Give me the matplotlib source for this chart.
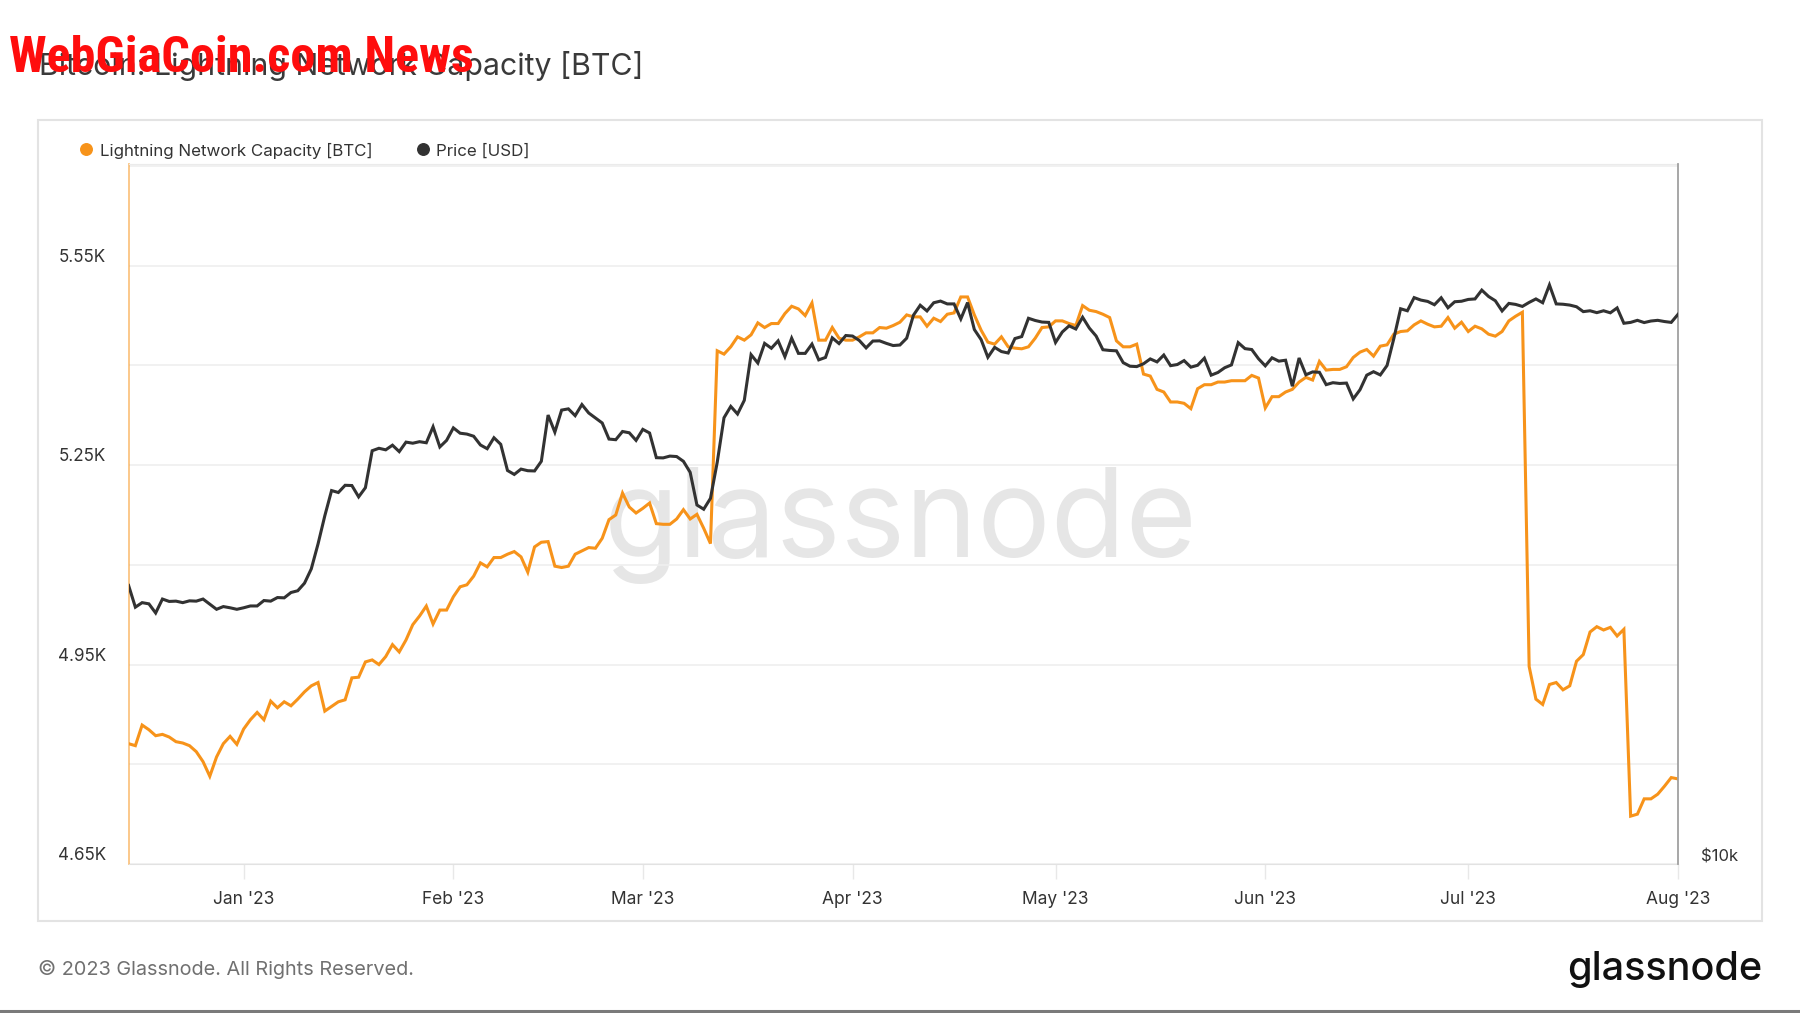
import matplotlib
matplotlib.use("Agg")
import matplotlib.pyplot as plt
import matplotlib.ticker as mticker
from matplotlib import font_manager
from matplotlib.lines import Line2D
from matplotlib.patches import Rectangle
import pandas as pd

plt.rcParams['font.family'] = ['Inter', 'DejaVu Sans']

# ---------------- data ----------------
start_date = "2022-12-15"
end_date = "2023-08-01"

capacity_btc = [
    4831, 4828, 4859, 4852, 4843, 4845, 4841, 4834, 4832, 4828, 4819, 4804, 4782, 4811, 4831, 4842, 4830,
    4853, 4867, 4878, 4867, 4895, 4885, 4894, 4888, 4898, 4909, 4918, 4923, 4880, 4887, 4894, 4897,
    4930, 4931, 4954, 4957, 4950, 4962, 4980, 4969, 4987, 5010, 5023, 5038, 5011, 5032, 5032,
    5052, 5067, 5070, 5083, 5103, 5097, 5111, 5111, 5116, 5120, 5112, 5089, 5127, 5134, 5135, 5098,
    5096, 5098, 5116, 5121, 5126, 5125, 5140, 5168, 5175, 5208, 5187, 5178,
    5185, 5193, 5162, 5161, 5161, 5169, 5183, 5169, 5176, 5155, 5132, 5422, 5417, 5428, 5443, 5438,
    5446, 5464, 5457, 5463, 5463, 5478, 5489, 5485, 5475, 5494, 5438, 5438, 5457, 5441, 5438,
    5438, 5443, 5449, 5449, 5457, 5456, 5460, 5465, 5476, 5473, 5473, 5459, 5471, 5466, 5477,
    5479, 5503, 5503, 5476, 5453, 5435, 5432, 5443, 5428, 5426, 5425, 5428, 5441, 5457, 5458,
    5467, 5467, 5463, 5460, 5490, 5483, 5481, 5477, 5472, 5437, 5428, 5428, 5432, 5387, 5384,
    5364, 5360, 5345, 5345, 5343, 5335, 5365, 5371, 5371, 5375, 5375, 5377, 5377, 5377, 5385, 5381,
    5336, 5353, 5353, 5360, 5364, 5375, 5382, 5378, 5406, 5393, 5394, 5394, 5398, 5412, 5420,
    5424, 5414, 5429, 5431, 5447, 5451, 5452, 5461, 5467, 5462, 5458, 5459, 5472, 5456, 5465,
    5451, 5459, 5455, 5447, 5444, 5451, 5467, 5474, 5480, 4947, 4898, 4890, 4920, 4923, 4912,
    4918, 4955, 4965, 4999, 5007, 5002, 5006, 4993, 5003, 4722, 4725, 4748, 4748, 4755, 4767,
    4780, 4778,
]

price_usd = [
    # Dec 15-31
    17360, 16630, 16780, 16740, 16440, 16900, 16820, 16830, 16780, 16840, 16830, 16900, 16730,
    16560, 16650, 16610, 16560,
    # Jan
    16610, 16670, 16670, 16850, 16830, 16950, 16940, 17120, 17180, 17440, 17940, 18850, 19930,
    20950, 20870, 21170, 21160, 20690, 21070, 22670, 22780, 22710, 22920, 22630, 23060, 23010,
    23080, 23030, 23770, 22840, 23140,
    # Feb
    23720, 23470, 23430, 23330, 22930, 22760, 23260, 22960, 21800, 21630, 21860, 21790, 21780,
    22200, 24330, 23520, 24570, 24630, 24300, 24840, 24430, 24190, 23950, 23200, 23170, 23550,
    23490, 23140,
    # Mar
    23650, 23480, 22360, 22350, 22430, 22410, 22200, 21720, 20360, 20190, 20630, 22160, 24200,
    24750, 24380, 25050, 27420, 26970, 28040, 27770, 28180, 27310, 28330, 27490, 27490, 28000,
    27140, 27270, 28350, 28030, 28480,
    # Apr
    28450, 28200, 27790, 28170, 28180, 28040, 27920, 27950, 28330, 29650, 30240, 29900, 30390,
    30490, 30320, 30320, 29430, 30400, 28820, 28250, 27280, 27820, 27590, 27510, 28310, 28420,
    29470, 29340, 29250, 29230,
    # May
    28090, 28680, 29030, 28850, 29530, 28900, 28450, 27690, 27650, 27630, 26990, 26800, 26780,
    26930, 27190, 27030, 27400, 26830, 26890, 27100, 26750, 26850, 27230, 26330, 26470, 26720,
    26870, 28080, 27750, 27700, 27200,
    # Jun
    26820, 27250, 27070, 27120, 25760, 27240, 26350, 26500, 26480, 25840, 25940, 25900, 25920,
    25120, 25580, 26330, 26510, 26340, 26840, 28310, 30030, 29910, 30700, 30550, 30470, 30270,
    30690, 30090, 30450, 30480,
    # Jul
    30590, 30620, 31160, 30770, 30510, 29900, 30350, 30290, 30170, 30410, 30620, 30390, 31480,
    30320, 30300, 30250, 30150, 29860, 29910, 29800, 29910, 29790, 30080, 29180, 29230, 29350,
    29220, 29310, 29350, 29280, 29230,
    # Aug 1
    29700,
]

dates = pd.date_range(start_date, end_date, freq="D")

left_ticks = [4650, 4950, 5250, 5550]
left_tick_labels = ["4.65K", "4.95K", "5.25K", "5.55K"]
left_minor = [4800, 5100, 5400, 5700]
month_ticks = ["2023-01-01", "2023-02-01", "2023-03-01", "2023-04-01",
               "2023-05-01", "2023-06-01", "2023-07-01", "2023-08-01"]
month_labels = ["Jan '23", "Feb '23", "Mar '23", "Apr '23",
                "May '23", "Jun '23", "Jul '23", "Aug '23"]

ORANGE = "#f7931a"
DARK = "#323232"
TXT = "#333333"

# ---------------- figure ----------------
fig = plt.figure(figsize=(18, 10.13), dpi=100)
fig.patch.set_facecolor("white")

# card border
fig.add_artist(Rectangle((38 / 1800, 1 - 921 / 1013), (1762 - 38) / 1800, (921 - 120) / 1013,
                         transform=fig.transFigure, fill=False, edgecolor="#e3e3e3", lw=1.5))
# bottom page line
fig.add_artist(Line2D([0, 1], [0.0015, 0.0015], transform=fig.transFigure, color="#7a7a7a", lw=2.2))

ax = fig.add_axes([128.6 / 1800, 149 / 1013, (1678 - 128.6) / 1800, 700 / 1013])
ax.set_facecolor("white")

ax.plot(dates, capacity_btc, color=ORANGE, lw=2.2, solid_joinstyle="miter", zorder=3)
ax.set_xlim(dates[0], dates[-1])
ax.set_ylim(4650, 5703)

ax.set_yticks(left_ticks)
ax.set_yticklabels(left_tick_labels)
ax.set_yticks(left_minor, minor=True)
ax.tick_params(axis="y", which="both", length=0, pad=16.5, labelsize=12.3, labelcolor=TXT)
for lab in ax.get_yticklabels():
    lab.set_verticalalignment("bottom")
ax.grid(axis="y", which="both", color="#efefef", lw=1.2)
ax.set_axisbelow(True)

ax.set_xticks(pd.to_datetime(month_ticks))
ax.set_xticklabels(month_labels)
ax.tick_params(axis="x", length=11, width=1, color="#e8e8e8", pad=8.5, labelsize=12.5, labelcolor=TXT)

ax.spines["left"].set_color((0.97, 0.58, 0.10, 0.55))
ax.spines["left"].set_linewidth(1.3)
ax.spines["bottom"].set_color("#e2e2e2")
ax.spines["top"].set_color("#ebebeb")
ax.spines["right"].set_visible(False)

# watermark
ax.text(0.4985, 0.483, "glassnode", transform=ax.transAxes, ha="center", va="center",
        fontsize=88, color="#e6e6e6", zorder=0)

ax2 = ax.twinx()
ax2.plot(dates, price_usd, color=DARK, lw=2.2, solid_joinstyle="miter", zorder=4)
ax2.set_yscale("log")
ax2.set_ylim(10000, 40000)
ax2.yaxis.set_major_locator(mticker.FixedLocator([10000]))
ax2.yaxis.set_major_formatter(mticker.FixedFormatter(["$10k"]))
ax2.yaxis.set_minor_locator(mticker.NullLocator())
ax2.tick_params(axis="y", length=0, pad=16.5, labelsize=12, labelcolor=TXT)
for lab in ax2.get_yticklabels():
    lab.set_verticalalignment("bottom")
for s in ["left", "top", "bottom"]:
    ax2.spines[s].set_visible(False)
ax2.spines["right"].set_color("#a0a0a0")
ax2.spines["right"].set_linewidth(1.3)

# legend (manual)
fig.add_artist(Line2D([86 / 1800], [1 - 149.5 / 1013], transform=fig.transFigure, marker="o",
                      markersize=8.3, color=ORANGE, linestyle="None"))
fig.text(100 / 1800, 1 - 156 / 1013, "Lightning Network Capacity [BTC]", fontsize=12.2,
         color=TXT, va="baseline", ha="left")
fig.add_artist(Line2D([423 / 1800], [1 - 149.5 / 1013], transform=fig.transFigure, marker="o",
                      markersize=8.3, color=DARK, linestyle="None"))
fig.text(436 / 1800, 1 - 156 / 1013, "Price [USD]", fontsize=12.2, color=TXT,
         va="baseline", ha="left")

# title
fig.text(39 / 1800, 1 - 75 / 1013, "Bitcoin: Lightning Network Capacity [BTC]", fontsize=21.8,
         color="#3a3a3a", va="baseline", ha="left")

# footer
fig.text(38 / 1800, 1 - 975 / 1013, "\u00a9 2023 Glassnode. All Rights Reserved.", fontsize=14.3,
         color="#707070", va="baseline", ha="left")
fig.text(1762 / 1800, 1 - 980 / 1013, "glassnode", fontsize=28.5, color="#111111",
         va="baseline", ha="right", fontweight="medium")

# overlay watermark: pick a narrow bold face if one is installed
red_family, red_stretch = ["Liberation Sans", "DejaVu Sans"], "normal"
candidates = [("Liberation Sans Narrow", "normal"), ("Noto Sans", "extra-condensed"),
              ("Noto Sans", "condensed"), ("Noto Sans ExtraCondensed", "normal"),
              ("Noto Sans Condensed", "normal"), ("Roboto Condensed", "normal"),
              ("Open Sans Condensed", "normal"), ("DejaVu Sans", "condensed")]
for fam, stretch in candidates:
    try:
        path = font_manager.findfont(font_manager.FontProperties(
            family=fam, weight="bold", stretch=stretch), fallback_to_default=False)
    except Exception:
        continue
    low = path.lower()
    if "narrow" in low or "condensed" in low:
        red_family, red_stretch = [fam, "DejaVu Sans"], stretch
        break

red = fig.text(9 / 1800, 1 - 72 / 1013, "WebGiaCoin.com News", fontsize=30,
               family=red_family, fontstretch=red_stretch,
               fontweight="bold", color="#ff0d0d", va="baseline", ha="left", zorder=10)
# scale the text so that it spans the same width as in the reference (464 px)
renderer = fig.canvas.get_renderer()
w = red.get_window_extent(renderer).width
red.set_fontsize(30 * 464.0 / w)

fig.savefig("out.png", dpi=100)
